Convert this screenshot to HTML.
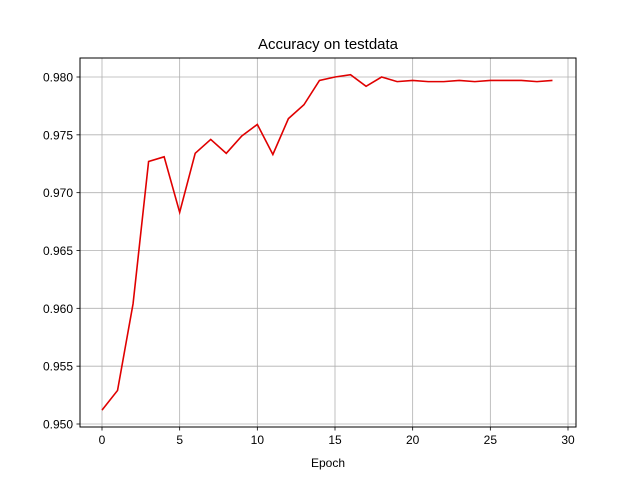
<!DOCTYPE html>
<html><head><meta charset="utf-8"><style>
body{margin:0;background:#fff}
svg{display:block;font-family:"Liberation Sans","DejaVu Sans",sans-serif}
</style></head><body>
<svg id="chart" width="640" height="480">
<rect width="640" height="480" fill="#fff"/>
<text x="328" y="49" text-anchor="middle" font-size="15">Accuracy on testdata</text>
<text x="328" y="467" text-anchor="middle" font-size="12">Epoch</text>
<g id="grid"></g>
<g id="ticks"></g>
<polyline id="line" fill="none" stroke="#e00000" stroke-width="1.6"/>
<rect x="80" y="58" width="496" height="369" fill="none" stroke="#000" stroke-width="1"/>
</svg>
<script>
const epochs = [0,1,2,3,4,5,6,7,8,9,10,11,12,13,14,15,16,17,18,19,20,21,22,23,24,25,26,27,28,29];
const accuracy = [0.9512,0.9529,0.9604,0.9727,0.9731,0.9683,0.9734,0.9746,0.9734,0.9749,0.9759,0.9733,0.9764,0.9776,0.9797,0.9800,0.9802,0.9792,0.9800,0.9796,0.9797,0.9796,0.9796,0.9797,0.9796,0.9797,0.9797,0.9797,0.9796,0.9797];
const xTicks = [0,5,10,15,20,25,30];
const yTicks = [0.950,0.955,0.960,0.965,0.970,0.975,0.980];
const yTickLabels = ["0.950","0.955","0.960","0.965","0.970","0.975","0.980"];

const X = v => 102 + v * (466/30);
const Y = v => 424 - (v - 0.950) * (347/0.030);
const ns = "http://www.w3.org/2000/svg";
const grid = document.getElementById('grid'), ticks = document.getElementById('ticks');
function mk(tag, attrs, parent){const e=document.createElementNS(ns,tag);for(const k in attrs)e.setAttribute(k,attrs[k]);parent.appendChild(e);return e;}
xTicks.forEach(t=>{
  const x=X(t);
  const g=mk('line',{x1:x,x2:x,y1:58,y2:427,stroke:'#b0b0b0','stroke-width':0.8},grid);
  
  
  mk('line',{x1:x,x2:x,y1:427,y2:430.5,stroke:'#000','stroke-width':0.8},ticks);
  const tx=mk('text',{x:x,y:444,'text-anchor':'middle','font-size':12},ticks);
  tx.textContent=t;
  
  
});
yTicks.forEach((t,i)=>{
  const y=Y(t);
  const g=mk('line',{x1:80,x2:576,y1:y,y2:y,stroke:'#b0b0b0','stroke-width':0.8},grid);
  
  
  mk('line',{x1:76.5,x2:80,y1:y,y2:y,stroke:'#000','stroke-width':0.8},ticks);
  const tx=mk('text',{x:73,y:y+4.5,'text-anchor':'end','font-size':12},ticks);
  tx.textContent=yTickLabels[i];
  
  
});
document.getElementById('line').setAttribute('points', epochs.map((e,i)=>X(e)+','+Y(accuracy[i])).join(' '));
</script>
</body></html>
